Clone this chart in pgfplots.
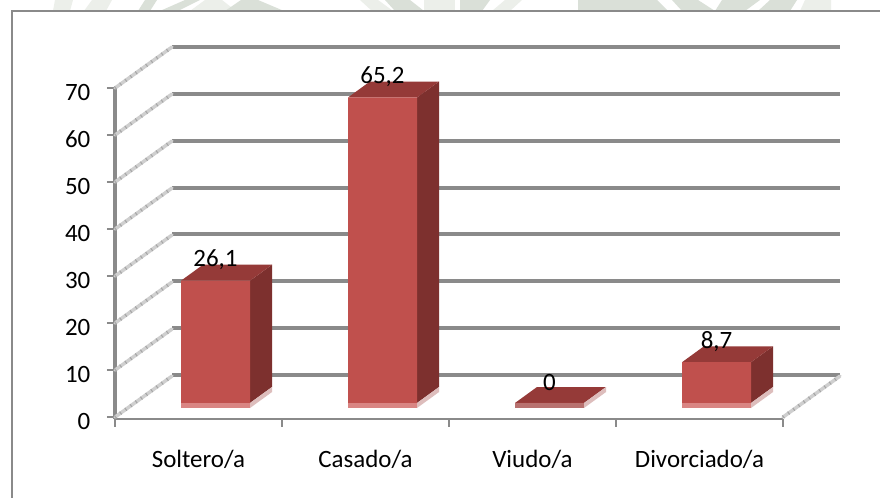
\documentclass[border=0pt]{standalone}
\usepackage{fontspec}
\setmainfont{Carlito}
\usepackage{pgfplots}
\usepackage{pgfplotstable}
\pgfplotsset{compat=1.18}
\definecolor{gridg}{HTML}{8A8A8A}
\definecolor{diagl}{HTML}{CFCFCF}
\definecolor{diagd}{HTML}{A6A6A6}
\definecolor{front}{HTML}{C0504D}
\definecolor{topf}{HTML}{953A38}
\definecolor{sidef}{HTML}{7D302E}
\definecolor{strip}{HTML}{D98583}
\definecolor{pale}{HTML}{DDBDBC}
\definecolor{wm}{HTML}{DAE0D8}
\definecolor{wml}{HTML}{ECEFEA}
\pgfplotstableread{
x y
0 0
0.341 8.72
0 nan
0 10
0.341 18.72
0 nan
0 20
0.341 28.72
0 nan
0 30
0.341 38.72
0 nan
0 40
0.341 48.72
0 nan
0 50
0.341 58.72
0 nan
0 60
0.341 68.72
0 nan
0 70
0.341 78.72
0 nan
4 0
4.341 8.72
}\diagdata
\pgfplotstableread{
x y
-0.048 0
0 0
0 nan
-0.048 10
0 10
0 nan
-0.048 20
0 20
0 nan
-0.048 30
0 30
0 nan
-0.048 40
0 40
0 nan
-0.048 50
0 50
0 nan
-0.048 60
0 60
0 nan
-0.048 70
0 70
}\ytickdata
\pgfplotstableread{
x y
0.5 26.1
1.5 65.2
2.5 0
3.5 8.7
}\bardata
\begin{document}
\begin{tikzpicture}[x=0.75pt,y=0.75pt]
\path[use as bounding box,fill=white] (0,0) rectangle (880,498);
% pale watermark visible above the chart frame
\fill[wml] (55,498) -- (73,498) -- (70,487) -- (53,487) -- cycle;
\fill[wml] (92,498) -- (112,498) -- (106,487) -- (84,487) -- cycle;
\fill[wm] (145,498) -- (157,498) -- (150,487) -- (138,487) -- cycle;
\fill[wm] (185,498) -- (200,498) -- (178,487) -- (160,487) -- cycle;
\fill[wml] (205,498) -- (222,498) -- (236,487) -- (190,487) -- cycle;
\fill[wm] (241,498) -- (258,498) -- (284,487) -- (225,487) -- cycle;
\fill[wml] (360,498) -- (378,498) -- (393,487) -- (372,487) -- cycle;
\fill[wm] (385,498) -- (410,498) -- (424,487) -- (395,487) -- cycle;
\fill[wml] (424,498) -- (455,498) -- (455,487) -- (424,487) -- cycle;
\fill[wm] (460,498) -- (490,498) -- (482,487) -- (460,487) -- cycle;
\fill[wml] (505,498) -- (522,498) -- (510,487) -- (492,487) -- cycle;
\fill[wm] (578,498) -- (657,498) -- (668,487) -- (578,487) -- cycle;
\fill[wm] (672,498) -- (698,498) -- (715,487) -- (682,487) -- cycle;
\fill[wm] (722,498) -- (760,498) -- (745,487) -- (715,487) -- cycle;
\fill[wm] (770,498) -- (797,498) -- (790,487) -- (758,487) -- cycle;
\fill[wml] (805,498) -- (831,498) -- (831,487) -- (800,487) -- cycle;
% frame: left and top only
\draw[gridg,line width=1.1pt] (12,0) -- (12,487) -- (880,487);
% back wall grid
\begin{axis}[
  at={(129pt,92.25pt)},anchor=south west,scale only axis,
  width=501pt,height=246pt,xmin=0,xmax=4,ymin=0,ymax=70,
  xtick=\empty,ytick={0,10,20,30,40,50,60,70},yticklabels={},
  axis line style={draw=none},major tick length=0pt,tick style={draw=none},
  ymajorgrids,major grid style={gridg,line width=3pt},clip=false]
\end{axis}
% main axes
\begin{axis}[
  at={(86.25pt,59.25pt)},anchor=south west,scale only axis,
  width=501pt,height=248.2pt,xmin=0,xmax=4,ymin=-0.4,ymax=70,clip=false,
  axis x line*=bottom,axis y line*=left,
  x axis line style={-,draw=gridg,line width=1.1pt},
  y axis line style={-,draw=gridg,line width=3pt},
  tick align=outside,
  ytick={0,10,20,30,40,50,60,70},
  xtick={0,1,2,3,4},xticklabels={},
  extra x ticks={0.5,1.5,2.5,3.5},
  extra x tick labels={Soltero/a,Casado/a,Viudo/a,Divorciado/a},
  extra x tick style={major tick length=0pt,
    xticklabel style={yshift=-20pt}},
  xtick style={draw=gridg,line width=1pt},
  major tick length=6pt,
  ticklabel style={font=\fontsize{18.7}{22}\selectfont,text=black},
  /pgf/number format/assume math mode=true,
  yticklabel style={xshift=-9pt,yshift=-3.3pt}]
\addplot[gridg,line width=1pt,unbounded coords=jump] table {\ytickdata};
\addplot[diagl,line width=2.6pt,unbounded coords=jump,line cap=round] table {\diagdata};
\addplot[diagd,line width=2.6pt,dash pattern=on 0.8pt off 4pt,unbounded coords=jump] table {\diagdata};
\end{axis}
% bars
\begin{axis}[
  at={(99pt,71.25pt)},anchor=south west,scale only axis,
  width=501pt,height=246pt,xmin=0,xmax=4,ymin=0,ymax=70,clip=false,
  hide axis]
% Soltero/a
\addplot[fill=sidef,draw=none] coordinates {(0.7066,0)(0.7066,26.1)(0.8383,29.51)(0.8383,3.41)} -- cycle;
\addplot[fill=topf,draw=none] coordinates {(0.2934,26.1)(0.7066,26.1)(0.8383,29.51)(0.4251,29.51)} -- cycle;
\addplot[fill=pale,draw=none] coordinates {(0.7066,-1.07)(0.7066,0)(0.8383,3.41)(0.8383,2.34)} -- cycle;
\addplot[fill=strip,draw=none] coordinates {(0.2934,0)(0.7066,0)(0.7066,-1.07)(0.2934,-1.07)} -- cycle;
% Casado/a
\addplot[fill=sidef,draw=none] coordinates {(1.7066,0)(1.7066,65.2)(1.8383,68.61)(1.8383,3.41)} -- cycle;
\addplot[fill=topf,draw=none] coordinates {(1.2934,65.2)(1.7066,65.2)(1.8383,68.61)(1.4251,68.61)} -- cycle;
\addplot[fill=pale,draw=none] coordinates {(1.7066,-1.07)(1.7066,0)(1.8383,3.41)(1.8383,2.34)} -- cycle;
\addplot[fill=strip,draw=none] coordinates {(1.2934,0)(1.7066,0)(1.7066,-1.07)(1.2934,-1.07)} -- cycle;
% Viudo/a
\addplot[fill=topf,draw=none] coordinates {(2.2934,0)(2.7066,0)(2.8383,3.41)(2.4251,3.41)} -- cycle;
\addplot[fill=pale,draw=none] coordinates {(2.7066,-1.07)(2.7066,0)(2.8383,3.41)(2.8383,2.34)} -- cycle;
\addplot[fill=strip!85!black,draw=none] coordinates {(2.2934,0)(2.7066,0)(2.7066,-1.07)(2.2934,-1.07)} -- cycle;
% Divorciado/a
\addplot[fill=sidef,draw=none] coordinates {(3.7066,0)(3.7066,8.7)(3.8383,12.11)(3.8383,3.41)} -- cycle;
\addplot[fill=topf,draw=none] coordinates {(3.2934,8.7)(3.7066,8.7)(3.8383,12.11)(3.4251,12.11)} -- cycle;
\addplot[fill=pale,draw=none] coordinates {(3.7066,-1.07)(3.7066,0)(3.8383,3.41)(3.8383,2.34)} -- cycle;
\addplot[fill=strip,draw=none] coordinates {(3.2934,0)(3.7066,0)(3.7066,-1.07)(3.2934,-1.07)} -- cycle;
% front faces and value labels
\addplot[ybar,bar width=51.75pt,fill=front,draw=none,
  nodes near coords,
  nodes near coords align={center},
  every node near coord/.append style={font=\fontsize{18.7}{22}\selectfont,text=black,yshift=15.5pt},
  /pgf/number format/.cd,use comma,fixed,precision=1,assume math mode=true] table {\bardata};
\end{axis}
\end{tikzpicture}
\end{document}
